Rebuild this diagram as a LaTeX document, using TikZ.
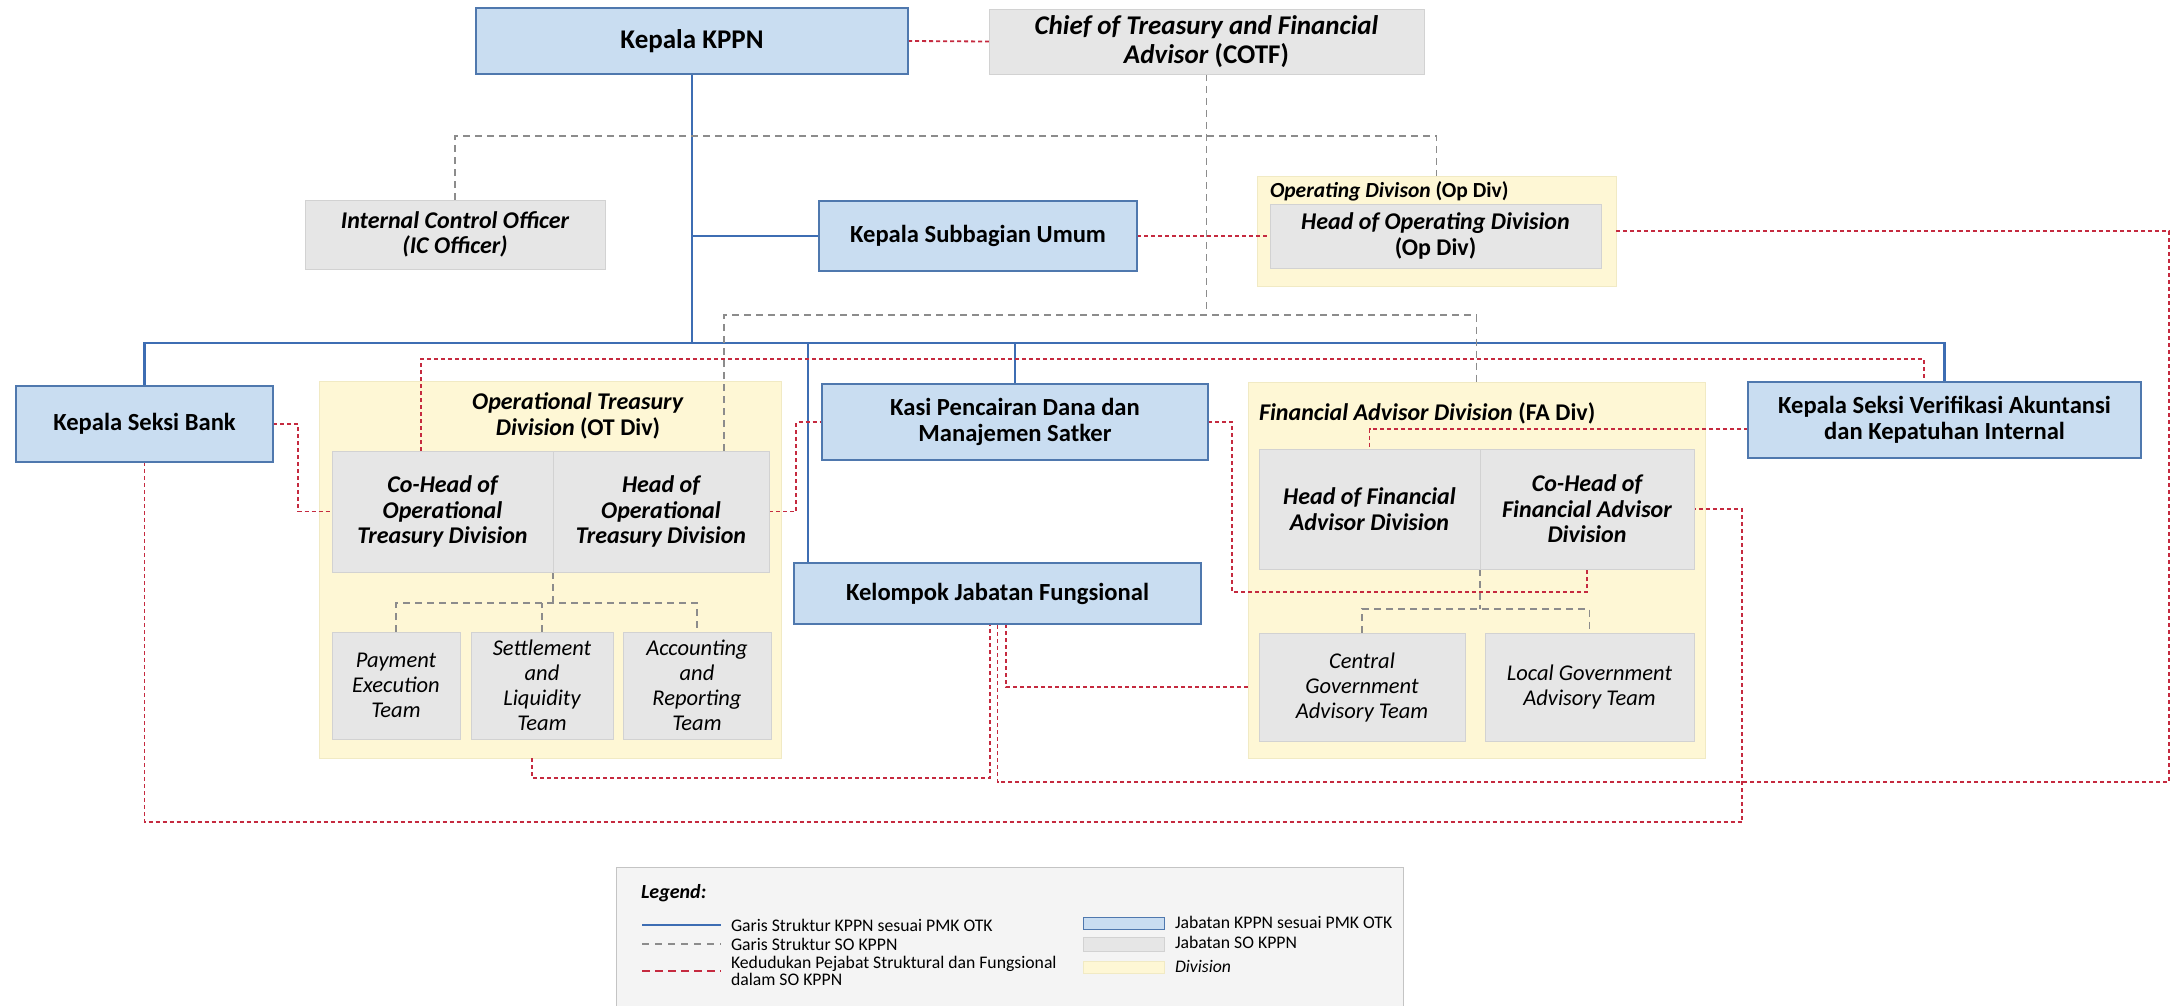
\documentclass[tikz,border=0pt]{standalone}
\usepackage{fontspec}
\setmainfont{Carlito}
\usetikzlibrary{calc}
\pgfdeclarelayer{bgl}
\pgfdeclarelayer{divs}
\pgfdeclarelayer{lines}
\pgfsetlayers{bgl,divs,lines,main}
\definecolor{bfill}{HTML}{C9DDF1}
\definecolor{bdraw}{HTML}{4F78AE}
\definecolor{gfill}{HTML}{E6E6E6}
\definecolor{gdraw}{HTML}{D2D2D2}
\definecolor{yfill}{HTML}{FEF7D5}
\definecolor{ydraw}{HTML}{F1EAC4}
\definecolor{bline}{HTML}{3D6DB3}
\definecolor{gline}{HTML}{8C8C8C}
\definecolor{rline}{HTML}{C52A3F}
\definecolor{lgfill}{HTML}{F4F4F4}
\definecolor{lgdraw}{HTML}{C4C4C4}
\newcommand\fszK{\fontsize{27}{29}\selectfont}
\newcommand\fszA{\fontsize{24}{25.5}\selectfont}
\newcommand\fszB{\fontsize{24.6}{25.5}\selectfont}
\newcommand\fszT{\fontsize{22.5}{25}\selectfont}
\newcommand\fszO{\fontsize{21.5}{23}\selectfont}
\newcommand\fszL{\fontsize{17.7}{17.5}\selectfont}
\newcommand\fszLg{\fontsize{20}{22}\selectfont}
\newcommand\BI[1]{\textbf{\textit{#1}}}
\begin{document}
\begin{tikzpicture}[x=1pt,y=-1pt,
  every node/.style={inner sep=0pt, outer sep=0pt},
  bluebox/.style={draw=bdraw, fill=bfill, line width=1.1pt, align=center, font=\fszB\bfseries},
  graybox/.style={draw=gdraw, fill=gfill, line width=0.8pt, align=center, font=\fszA\bfseries\itshape},
  teambox/.style={draw=gdraw, fill=gfill, line width=0.8pt, align=center, font=\fszT\itshape},
  divbox/.style={draw=ydraw, fill=yfill, line width=0.8pt},
  bl/.style={draw=bline, line width=2.8pt},
  gl/.style={draw=gline, line width=1.8pt, dash pattern=on 7pt off 5pt},
  rl/.style={draw=rline, line width=1.8pt, dash pattern=on 4pt off 3pt},
  lgtext/.style={anchor=west, font=\fszL, align=left},
  swatch/.style={anchor=north west, minimum width=81, line width=0.8pt}
]
\useasboundingbox (0,0) rectangle (2177,1006);
\begin{pgfonlayer}{bgl}
\fill[white] (0,0) rectangle (2177,1006);
\end{pgfonlayer}

% ---------- division containers ----------
\begin{pgfonlayer}{divs}
\node[divbox, minimum width=359, minimum height=110] (opdiv) at (1436.5,231) {};
\node[divbox, minimum width=462, minimum height=377] (otdiv) at (550,569.5) {};
\node[divbox, minimum width=457, minimum height=376] (fadiv) at (1476.5,570) {};
\end{pgfonlayer}

% ---------- boxes ----------
\node[bluebox, font=\fszK\bfseries, minimum width=432, minimum height=66] (kppn) at (692,41) {Kepala KPPN};
\node[graybox, font=\fszK, minimum width=435, minimum height=65] (cotf) at (1206.5,41.5) {\BI{Chief of Treasury and Financial}\\\BI{Advisor} \textbf{(COTF)}};
\node[graybox, minimum width=300, minimum height=69] (ico) at (455,234.5) {Internal Control Officer\\(IC Officer)};
\node[bluebox, minimum width=318, minimum height=70] (ksu) at (978,236) {Kepala Subbagian Umum};
\node[anchor=base west, font=\fszO] (optitle) at (1270,197) {\BI{Operating Divison} \textbf{(Op Div)}};
\node[graybox, font=\fszA, minimum width=331, minimum height=64] (hopdiv) at (1435.5,236) {\BI{Head of Operating Division}\\\textbf{(Op Div)}};

\node[bluebox, minimum width=257, minimum height=76] (ksb) at (144.5,424) {Kepala Seksi Bank};
\node[font=\fszA, align=center] (ottitle) at (578,416) {\BI{Operational Treasury}\\\BI{Division} \textbf{(OT Div)}};
\node[graybox, minimum width=221, minimum height=121] (cohot) at (442.5,511.5) {Co-Head of\\Operational\\Treasury Division};
\node[graybox, minimum width=216, minimum height=121] (hot) at (661,511.5) {Head of\\Operational\\Treasury Division};
\node[teambox, minimum width=128, minimum height=107] (pay) at (396,685.5) {Payment\\Execution\\Team};
\node[teambox, minimum width=142, minimum height=107] (sett) at (542,685.5) {Settlement\\and\\Liquidity\\Team};
\node[teambox, minimum width=148, minimum height=107] (acc) at (697,685.5) {Accounting\\and\\Reporting\\Team};

\node[bluebox, minimum width=386, minimum height=76] (kasi) at (1015,422) {Kasi Pencairan Dana dan\\Manajemen Satker};
\node[bluebox, minimum width=407, minimum height=61] (kjf) at (997.5,593.5) {Kelompok Jabatan Fungsional};

\node[anchor=base west, font=\fszA] (fatitle) at (1259,420) {\BI{Financial Advisor Division} \textbf{(FA Div)}};
\node[graybox, minimum width=221, minimum height=120] (hfa) at (1369.5,509) {Head of Financial\\Advisor Division};
\node[graybox, minimum width=214, minimum height=120] (cohfa) at (1587,509) {Co-Head of\\Financial Advisor\\Division};
\node[teambox, minimum width=206, minimum height=108] (cga) at (1362,687) {Central\\Government\\Advisory Team};
\node[teambox, minimum width=209, minimum height=108] (lga) at (1589.5,687) {Local Government\\Advisory Team};

\node[bluebox, minimum width=393, minimum height=76] (ksv) at (1944.5,420) {Kepala Seksi Verifikasi Akuntansi\\dan Kepatuhan Internal};

% ---------- helper coordinates ----------
\coordinate (busy) at (0,343);
\coordinate (upy) at (0,136);
\coordinate (lowy) at (0,315);
\coordinate (ry1) at (0,359);
\coordinate (otbar) at (0,603);
\coordinate (fabar) at (0,609);
\coordinate (y778) at (0,778);
\coordinate (kjfT) at ([xshift=14pt]kjf.north west);
\coordinate (hotT) at ([xshift=63pt]hot.north);
\coordinate (rc1) at (2169,782);
\coordinate (otB) at ([xshift=-18pt]otdiv.south);
\coordinate (kjfL) at ([xshift=-7.5pt]kjf.south);
\coordinate (kjfR) at ([xshift=8.5pt]kjf.south);
\coordinate (xc3) at (298,0);
\coordinate (xc4) at (796,0);
\coordinate (rc5) at (1232,592);
\coordinate (ksvL) at ([yshift=-9pt]ksv.west);
\coordinate (cohotT) at ([xshift=-21.5pt]cohot.north);
\coordinate (ksvT) at ([xshift=-20.5pt]ksv.north);
\coordinate (rc6) at (1742,822);

\begin{pgfonlayer}{lines}
% blue structure lines
\draw[bl] (kppn.south) -- (kppn.south |- busy);
\draw[bl] (kppn.south |- ksu.west) -- (ksu.west);
\draw[bl] (ksb.north) |- (ksv.north |- busy) -- (ksv.north);
\draw[bl] (kasi.north) -- (kasi.north |- busy);
\draw[bl] (kjfT) -- (kjfT |- busy);
% gray SO lines
\draw[gl] (cotf.south) -- (cotf.south |- lowy);
\draw[gl] (ico.north) |- (opdiv.north |- upy) -- (opdiv.north);
\draw[gl] (hotT) |- (fadiv.north |- lowy) -- (fadiv.north);
\draw[gl] (cohot.south east) -- (cohot.south east |- otbar);
\draw[gl] (pay.north) |- (acc.north |- otbar) -- (acc.north);
\draw[gl] (sett.north) -- (sett.north |- otbar);
\draw[gl] (hfa.south east) -- (hfa.south east |- fabar);
\draw[gl] (cga.north) |- (lga.north |- fabar) -- (lga.north);
% red position lines
\draw[rl] (kppn.east) -- (cotf.west);
\draw[rl] (ksu.east) -- (hopdiv.west);
\draw[rl] (opdiv.east) -| (rc1) -| (kjf.south);
\draw[rl] (otB) |- (kjfL |- y778) -- (kjfL);
\draw[rl] (kjfR) |- (fadiv.west |- cga.west);
\draw[rl] (ksb.east) -| (xc3 |- cohot.west) -- (cohot.west);
\draw[rl] (hot.east) -| (xc4 |- kasi.west) -- (kasi.west);
\draw[rl] (kasi.east) -| (rc5) -| (cohfa.south);
\draw[rl] (ksvL) -| (hfa.north);
\draw[rl] (cohotT) |- (ksvT |- ry1) -- (ksvT);
\draw[rl] (ksb.south) |- (rc6) |- (cohfa.east);
\end{pgfonlayer}

% ---------- legend ----------
\begin{scope}
\clip (0,0) rectangle (2177,1006);
\node[fill=lgfill, draw=lgdraw, line width=1pt, anchor=north west, minimum width=787, minimum height=160] (legend) at (616,867) {};
\end{scope}
\node[anchor=base west, font=\fszLg\bfseries\itshape] (lgtitle) at (641,898) {Legend:};
\coordinate (l1a) at (642,925); \coordinate (l1b) at (721,925);
\coordinate (l2a) at (642,944); \coordinate (l2b) at (721,944);
\coordinate (l3a) at (642,971); \coordinate (l3b) at (721,971);
\draw[bl, line width=2.2pt] (l1a) -- (l1b);
\draw[gl, line width=1.5pt, dash pattern=on 7pt off 6pt] (l2a) -- (l2b);
\draw[rl, line width=2.8pt, dash pattern=on 8pt off 5pt] (l3a) -- (l3b);
\node[lgtext] (lt1) at (731,925) {Garis Struktur KPPN sesuai PMK OTK};
\node[lgtext] (lt2) at (731,944) {Garis Struktur SO KPPN};
\node[lgtext] (lt3) at (731,971) {Kedudukan Pejabat Struktural dan Fungsional\\dalam SO KPPN};
\node[swatch, draw=bdraw, fill=bfill, minimum height=12] (sw1) at (1083,917) {};
\node[swatch, draw=gdraw, fill=gfill, minimum height=14] (sw2) at (1083,937) {};
\node[swatch, draw=ydraw, fill=yfill, minimum height=12] (sw3) at (1083,961) {};
\node[lgtext] (lt4) at (1175,922) {Jabatan KPPN sesuai PMK OTK};
\node[lgtext] (lt5) at (1175,942) {Jabatan SO KPPN};
\node[lgtext, font=\fszL\itshape] (lt6) at (1175,966) {Division};
\end{tikzpicture}
\end{document}
